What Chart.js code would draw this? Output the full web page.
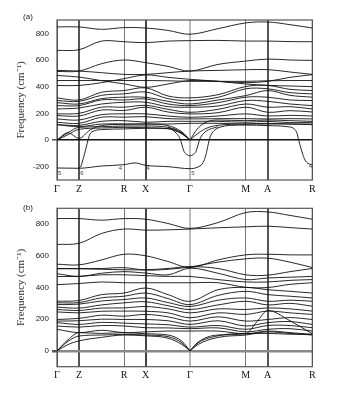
<!DOCTYPE html>
<html>
<head>
<meta charset="utf-8">
<script src="https://cdn.jsdelivr.net/npm/chart.js@4"></script>
<style>
  body { margin: 0; background: #fff; width: 338px; height: 400px; overflow: hidden; position: relative; }
  canvas { position: absolute; left: 0; }
  #chartA { top: 0; }
  #chartB { top: 200px; }
</style>
</head>
<body>
<canvas id="chartA" width="338" height="200"></canvas>
<canvas id="chartB" width="338" height="200"></canvas>
<script>
// k-path sample points and high-symmetry labels
const kPath = [0, 22, 44.5, 67, 88.7, 111, 133, 161, 188.7, 210.7, 233, 255.3];
const kTicks = [0, 22, 67, 88.7, 133, 188.7, 210.7, 255.3];
const kLabels = ["Γ", "Z", "R", "X", "Γ", "M", "A", "R"];
const yTicksA = [-200, 0, 200, 400, 600, 800];
const yTicksB = [0, 200, 400, 600, 800];

// panel (a) bands, cm-1 at kPath
const bandsA = [
  [848, 848, 830, 843, 840, 822, 793, 835, 878, 885, 865, 840],
  [672, 677, 742, 737, 730, 742, 745, 747, 742, 742, 738, 737],
  [514, 517, 572, 600, 580, 552, 517, 567, 592, 607, 600, 597],
  [522, 517, 505, 492, 492, 505, 517, 522, 527, 528, 510, 492],
  [484, 472, 445, 421, 395, 420, 446, 440, 430, 440, 470, 490],
  [446, 446, 446, 446, 446, 444, 440, 440, 440, 444, 446, 446],
  [409, 409, 430, 460, 488, 470, 455, 440, 420, 410, 405, 400],
  [316, 300, 358, 371, 391, 330, 316, 340, 401, 409, 380, 371],
  [296, 290, 335, 346, 360, 310, 296, 320, 384, 384, 355, 346],
  [280, 270, 310, 321, 320, 290, 270, 300, 333, 371, 335, 321],
  [258, 258, 301, 300, 308, 270, 258, 280, 321, 321, 300, 296],
  [233, 240, 270, 283, 283, 250, 246, 255, 296, 290, 270, 258],
  [196, 200, 246, 246, 260, 230, 208, 230, 270, 246, 250, 233],
  [183, 180, 225, 221, 246, 210, 196, 205, 246, 208, 220, 210],
  [158, 150, 190, 196, 196, 180, 170, 180, 196, 180, 185, 180],
  [133, 125, 171, 171, 175, 160, 158, 160, 160, 158, 160, 158],
  [115, 110, 140, 145, 133, 140, 140, 140, 133, 140, 130, 133],
  [115, 100, 120, 120, 120, 120, 125, 125, 120, 120, 120, 120]
];
// panel (a) acoustic and soft branches, each with its own k points
const acousticA1 = { k: [0, 11, 22, 44.5, 67, 88.7, 111, 125, 133], f: [0, 55, 95, 100, 105, 105, 95, 55, 0] };
const acousticA2 = { k: [0, 11, 22, 33, 44.5, 67, 88.7, 111, 125, 133], f: [0, 55, 12, 75, 108, 118, 120, 108, 60, 0] };
const acousticA3 = { k: [0, 11, 22, 44.5, 67, 88.7, 111, 125, 133], f: [0, 40, 80, 90, 95, 92, 85, 45, 0] };
const acousticA4 = { k: [133, 141, 150, 161, 188.7, 210.7, 233, 255.3], f: [0, 50, 90, 110, 120, 125, 120, 115] };
const acousticA5 = { k: [133, 140, 148, 161, 188.7, 210.7, 233, 255.3], f: [0, 80, 130, 150, 145, 150, 145, 140] };
const softA1 = {
  k: [0, 22, 44.5, 67, 78, 88.7, 111, 133, 140, 146, 149, 151, 153, 157, 165, 175, 188.7, 210.7, 230, 237, 240, 242, 245, 248, 251, 255.3],
  f: [-210, -212, -195, -185, -172, -190, -200, -215, -205, -170, -110, -40, 20, 70, 100, 110, 112, 108, 100, 85, 50, -10, -90, -150, -175, -185]
};
const softA2 = { k: [22, 24, 26.6, 29, 31, 33, 37, 44.5, 67, 88.7, 111, 125, 133], f: [-210, -195, -130, -60, 0, 45, 68, 78, 83, 88, 85, 50, 0] };
const softA3 = { k: [111, 118, 123, 127, 130, 133, 136, 139, 143, 148, 161], f: [100, 60, 10, -85, -110, -118, -110, -85, 10, 60, 100] };
const extraA = [acousticA1, acousticA2, acousticA3, acousticA4, acousticA5, softA1, softA2, softA3];

// small irrep labels on the soft branch in (a)
const irrepK = [2.6, 25, 63.3, 91, 136, 253.3];
const irrepF = [-248, -248, -213, -213, -248, -198];
const irrepText = ["5", "6", "4", "4", "5", "4"];

// panel (b) bands
const bandsB = [
  [835, 835, 825, 835, 831, 804, 773, 810, 873, 877, 855, 831],
  [672, 679, 741, 769, 762, 764, 769, 777, 783, 787, 778, 769],
  [547, 543, 574, 610, 600, 564, 526, 574, 606, 610, 606, 606],
  [520, 520, 520, 525, 510, 515, 530, 560, 581, 585, 560, 526],
  [518, 518, 515, 512, 512, 520, 532, 520, 480, 478, 500, 520],
  [487, 470, 490, 500, 491, 480, 522, 490, 450, 460, 465, 470],
  [470, 470, 480, 480, 475, 470, 470, 450, 435, 435, 445, 450],
  [418, 425, 435, 430, 430, 430, 430, 430, 401, 400, 420, 430],
  [313, 318, 355, 365, 397, 355, 313, 386, 401, 386, 376, 365],
  [303, 305, 335, 345, 365, 330, 292, 350, 376, 355, 345, 334],
  [292, 295, 315, 324, 334, 305, 280, 320, 334, 313, 320, 313],
  [276, 270, 290, 303, 310, 285, 261, 290, 313, 290, 300, 282],
  [261, 255, 270, 271, 280, 265, 240, 265, 261, 271, 265, 251],
  [246, 240, 250, 251, 250, 240, 209, 240, 230, 251, 240, 230],
  [198, 205, 225, 219, 230, 215, 188, 215, 188, 198, 210, 198],
  [188, 190, 200, 198, 198, 190, 167, 190, 157, 178, 185, 167],
  [178, 167, 180, 175, 170, 165, 150, 160, 136, 160, 160, 146],
  [157, 150, 160, 157, 146, 145, 140, 145, 120, 136, 140, 125],
  [136, 115, 130, 115, 120, 125, 125, 125, 108, 125, 115, 104]
];
const acousticB1 = { k: [0, 11, 22, 44.5, 67, 88.7, 111, 125, 133], f: [0, 70, 115, 110, 115, 108, 100, 60, 0] };
const acousticB2 = { k: [0, 11, 22, 44.5, 67, 88.7, 111, 125, 133], f: [0, 60, 94, 100, 104, 100, 90, 50, 0] };
const acousticB3 = { k: [0, 11, 22, 44.5, 67, 88.7, 111, 125, 133], f: [0, 40, 63, 85, 100, 95, 80, 40, 0] };
const acousticB4 = { k: [133, 141, 161, 188.7, 200, 210.7, 233, 255.3], f: [0, 55, 100, 108, 185, 255, 190, 108] };
const acousticB5 = { k: [133, 141, 161, 188.7, 210.7, 233, 255.3], f: [0, 50, 95, 110, 110, 105, 104] };
const acousticB6 = { k: [133, 141, 161, 188.7, 210.7, 233, 255.3], f: [0, 40, 85, 100, 120, 110, 100] };
const extraB = [acousticB1, acousticB2, acousticB3, acousticB4, acousticB5, acousticB6];

// vertical high-symmetry lines
const vColors = ["#555", "#555", "#777", "#444", "#bbb", "#777", "#555", "#555"];
const vWidths = [1, 2, 1, 2, 2, 1, 2, 1];

function bandSets(bands, extras) {
  // smooth regular bands, monotone for the steep acoustic/soft ones
  const sets = bands.map(f => ({ data: kPath.map((k, i) => ({ x: k, y: f[i] })), tension: 0.35 }));
  extras.forEach(e => sets.push({
    data: e.k.map((k, i) => ({ x: k, y: e.f[i] })),
    cubicInterpolationMode: "monotone"
  }));
  return sets;
}

const boxPlugin = {
  id: "box",
  beforeDatasetsDraw(chart) {
    const a = chart.chartArea, ctx = chart.ctx;
    ctx.save();
    ctx.strokeStyle = "#555";
    ctx.lineWidth = 1.2;
    ctx.strokeRect(a.left, a.top, a.right - a.left, a.bottom - a.top);
    ctx.restore();
  }
};

const labelPlugin = {
  id: "labels",
  afterDraw(chart, args, opts) {
    const ctx = chart.ctx, a = chart.chartArea;
    ctx.save();
    ctx.fillStyle = "#222";
    ctx.font = "8px 'Liberation Sans'";
    ctx.textAlign = "center";
    ctx.textBaseline = "middle";
    ctx.fillText(opts.panel, a.left - 29, a.top + opts.panelDy);
    if (opts.irreps) {
      const xs = chart.scales.x, ys = chart.scales.y;
      ctx.font = "6px 'Liberation Sans'";
      ctx.fillStyle = "#444";
      irrepK.forEach((k, i) => {
        ctx.fillText(irrepText[i], xs.getPixelForValue(k), ys.getPixelForValue(irrepF[i]));
      });
    }
    ctx.restore();
  }
};

function makeChart(id, sets, yMin, yMax, yTicks, padTop, xHeight, zeroColor, zeroWidth, panel, panelDy, irreps) {
  return new Chart(document.getElementById(id), {
    type: "line",
    data: { datasets: sets },
    plugins: [boxPlugin, labelPlugin],
    options: {
      responsive: false,
      animation: false,
      layout: { padding: { top: padTop, right: 25.7, left: 0, bottom: 0 } },
      elements: {
        line: { borderColor: "#111", borderWidth: 0.9, fill: false },
        point: { radius: 0 }
      },
      plugins: {
        legend: { display: false },
        tooltip: { enabled: false },
        labels: { panel, panelDy, irreps }
      },
      scales: {
        x: {
          type: "linear",
          min: 0,
          max: 255.3,
          afterBuildTicks: s => { s.ticks = kTicks.map(v => ({ value: v })); },
          afterFit: s => { s.height = xHeight; },
          ticks: {
            autoSkip: false,
            maxRotation: 0,
            padding: 3,
            color: "#111",
            font: { family: "'Liberation Serif'", size: 10 },
            callback: (v, i) => kLabels[i]
          },
          grid: {
            drawTicks: false,
            color: c => vColors[c.index],
            lineWidth: c => vWidths[c.index]
          },
          border: { display: false }
        },
        y: {
          min: yMin,
          max: yMax,
          afterBuildTicks: s => { s.ticks = yTicks.map(v => ({ value: v })); },
          afterFit: s => { s.width = 57; },
          ticks: {
            padding: 3,
            color: "#222",
            font: { family: "'Liberation Sans'", size: 8 }
          },
          grid: {
            drawTicks: true,
            tickLength: 5,
            tickColor: "#555",
            color: c => (c.tick && c.tick.value === 0 ? zeroColor : "rgba(0,0,0,0)"),
            lineWidth: c => (c.tick && c.tick.value === 0 ? zeroWidth : 0)
          },
          border: { display: false },
          title: {
            display: true,
            text: "Frequency (cm⁻¹)",
            color: "#333",
            padding: { top: 15, bottom: 0 },
            font: { family: "'Liberation Serif'", size: 11 }
          }
        }
      }
    }
  });
}

makeChart("chartA", bandSets(bandsA, extraA), -300, 900, yTicksA, 20, 20, "#111", 1.5, "(a)", -3, true);
makeChart("chartB", bandSets(bandsB, extraB), -100, 900, yTicksB, 8.3, 33.3, "#888", 2.5, "(b)", -1, false);
</script>
</body>
</html>
